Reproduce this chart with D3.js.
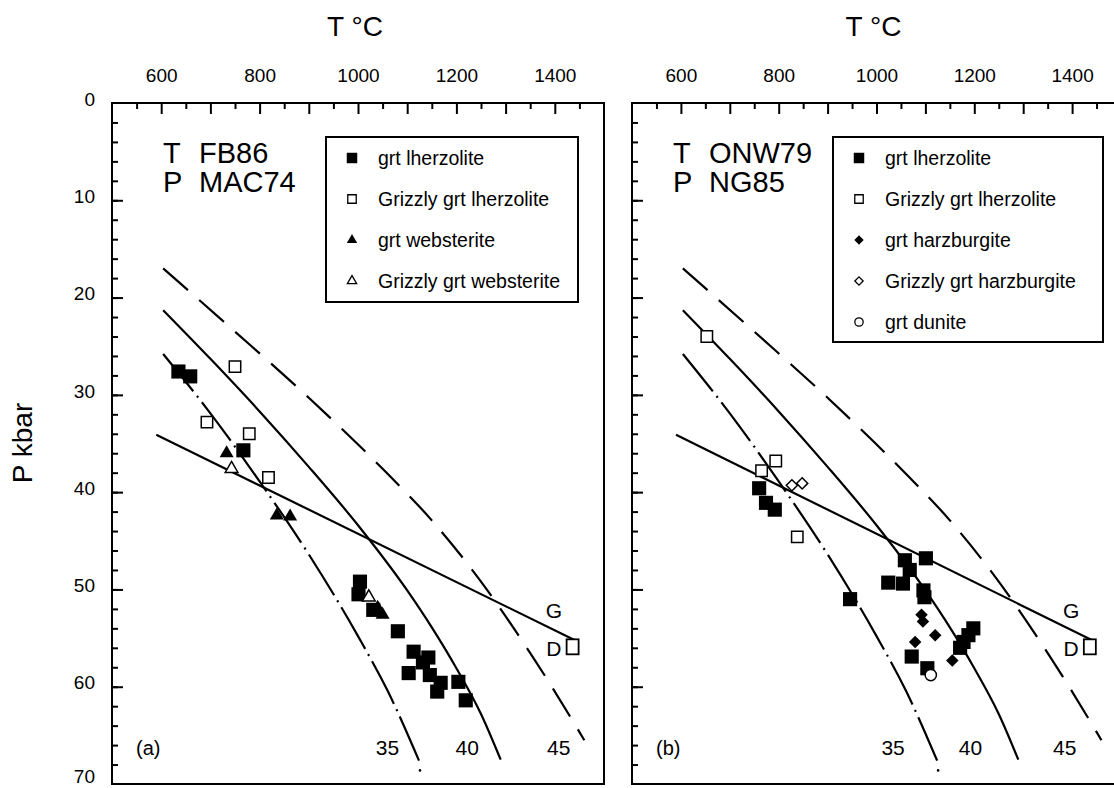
<!DOCTYPE html>
<html>
<head>
<meta charset="utf-8">
<script src="https://cdn.jsdelivr.net/npm/d3@7"></script>
<style>
  body { margin: 0; background: #fff; }
  svg { display: block; font-family: "Liberation Sans", Arial, Helvetica, sans-serif; }
</style>
</head>
<body>
<div id="chart"></div>
<script>
// Axis values
const tempTicks = [600, 800, 1000, 1200, 1400];
const pressTicks = [0, 10, 20, 30, 40, 50, 60, 70];

// Geotherms (T degC, P kbar), labels 35 / 40 / 45 mW/m2
const geo35 = [[604, 25.8], [700, 31.9], [800, 38.9], [900, 46.4], [1000, 54.8], [1060, 60.4], [1124, 67.6]];
const geo40 = [[604, 21.3], [700, 26.3], [800, 31.7], [900, 37.4], [1000, 43.4], [1100, 50.1], [1150, 53.9], [1200, 58.1], [1250, 62.8], [1290, 67.5]];
const geo45 = [[604, 17.0], [750, 23.5], [900, 30.3], [1050, 37.6], [1150, 42.9], [1250, 49.2], [1330, 55.0], [1400, 60.5], [1460, 65.5]];
// graphite-diamond boundary
const gdLine = [[590, 34.1], [1440, 55.2]];

// Panel (a) samples
const lherzA = [[635, 27.6], [659, 28.1], [767, 35.7], [1004, 49.2], [1001, 50.5], [1031, 52.1], [1081, 54.3],
  [1113, 56.4], [1132, 57.5], [1143, 57.0], [1103, 58.6], [1146, 58.8], [1168, 59.6], [1161, 60.5], [1204, 59.5], [1219, 61.4]];
const grizzlyLherzA = [[750, 27.1], [693, 32.8], [779, 34.0], [818, 38.5]];
const webA = [[733, 36.0], [835, 42.4], [862, 42.5], [1040, 51.9], [1050, 52.6]];
const grizzlyWebA = [[743, 37.6], [1022, 50.8]];

// Panel (b) samples
const lherzB = [[760, 39.6], [774, 41.1], [792, 41.8], [946, 51.0], [1058, 47.0], [1101, 46.8], [1068, 48.0], [1024, 49.3],
  [1054, 49.4], [1096, 50.1], [1098, 50.8], [1198, 54.0], [1188, 54.7], [1178, 55.4], [1171, 56.0], [1072, 56.9], [1104, 58.1]];
const grizzlyLherzB = [[653, 24.0], [765, 37.8], [794, 36.8], [838, 44.6]];
const harzB = [[1092, 52.6], [1095, 53.3], [1120, 54.7], [1079, 55.4], [1155, 57.3]];
const grizzlyHarzB = [[827, 39.3], [848, 39.1]];
const duniteB = [[1111, 58.8]];

const width = 1114, height = 788;
const plotTop = 103, plotBottom = 784;

const svg = d3.select("#chart").append("svg")
  .attr("width", width)
  .attr("height", height)
  .attr("viewBox", [0, 0, width, height]);

// marker styles
const kinds = {
  fsq:  { type: d3.symbolSquare, size: 200, fill: "#000", stroke: "none" },
  osq:  { type: d3.symbolSquare, size: 130, fill: "#fff", stroke: "#000" },
  ftri: { type: d3.symbolTriangle, size: 85, fill: "#000", stroke: "none" },
  otri: { type: d3.symbolTriangle, size: 70, fill: "#fff", stroke: "#000" },
  fdia: { type: d3.symbolDiamond2, size: 100, fill: "#000", stroke: "none" },
  odia: { type: d3.symbolDiamond2, size: 80, fill: "#fff", stroke: "#000" },
  ocir: { type: d3.symbolCircle, size: 100, fill: "#fff", stroke: "#000" }
};

function drawPanel(p) {
  const x = d3.scaleLinear().domain([500, 1500]).range([p.left, p.right]);
  const y = d3.scaleLinear().domain([0, 70]).range([plotTop, plotBottom]);
  const g = svg.append("g");

  // axis title on top
  g.append("text")
    .attr("x", (p.left + p.right) / 2 - 3)
    .attr("y", 36)
    .attr("text-anchor", "middle")
    .attr("font-size", 28)
    .text("T \u00b0C");

  // top ticks, pointing inward
  const ax = (vals, size) => d3.axisTop(x).tickValues(vals).tickSize(-size).tickFormat("");
  g.append("g").attr("transform", `translate(0,${plotTop})`).call(ax(d3.range(550, 1500, 100), 6));
  g.append("g").attr("transform", `translate(0,${plotTop})`).call(ax(d3.range(600, 1500, 100), 11));
  g.append("g").attr("transform", `translate(0,${plotTop})`)
    .call(d3.axisTop(x).tickValues(tempTicks).tickFormat(d3.format("d")).tickSize(0).tickPadding(21))
    .call(s => s.selectAll("text").attr("font-size", 19));

  // left ticks, pointing inward
  const ay = (vals, size) => d3.axisLeft(y).tickValues(vals).tickSize(-size).tickFormat("");
  g.append("g").attr("transform", `translate(${p.left},0)`).call(ay(d3.range(2, 70, 2), 6));
  g.append("g").attr("transform", `translate(${p.left},0)`).call(ay(pressTicks.slice(1, -1), 11));
  if (p.yLabels) {
    g.append("g").attr("transform", `translate(${p.left},0)`)
      .call(d3.axisLeft(y).tickValues(pressTicks).tickSize(0).tickPadding(17))
      .call(s => s.selectAll("text").attr("font-size", 19)
        .attr("dy", d => d === 70 ? "-0.08em" : "0.12em"));
  }
  g.selectAll(".domain").remove();
  g.selectAll(".tick line").attr("stroke", "#000").attr("stroke-width", 2);
  g.selectAll(".tick text").attr("fill", "#000");
  g.selectAll("g").attr("font-family", null);

  // frame
  g.append("rect")
    .attr("x", p.left).attr("y", plotTop)
    .attr("width", p.right - p.left).attr("height", plotBottom - plotTop)
    .attr("fill", "none").attr("stroke", "#000").attr("stroke-width", 2);

  // geotherms and G-D line
  const line = d3.line().x(d => x(d[0])).y(d => y(d[1])).curve(d3.curveMonotoneX);
  const lines = [
    { d: geo35, dash: "48,6,2,6" },
    { d: geo40, dash: null },
    { d: geo45, dash: "33,15" },
    { d: gdLine, dash: null }
  ];
  g.selectAll("path.curve").data(lines).join("path")
    .attr("class", "curve")
    .attr("d", d => line(d.d))
    .attr("fill", "none")
    .attr("stroke", "#000")
    .attr("stroke-width", 2.2)
    .attr("stroke-dasharray", d => d.dash);
  g.append("circle").attr("cx", x(1126)).attr("cy", y(68.6)).attr("r", 1.3).attr("fill", "#000");

  // curve labels
  const labels = [
    { t: "35", T: p.t35, P: 67.0 }, { t: "40", T: p.t40, P: 67.0 }, { t: "45", T: p.t45, P: 67.0 },
    { t: "G", T: 1398, P: 52.9 }, { t: "D", T: 1398, P: 56.8 }
  ];
  g.selectAll("text.lab").data(labels).join("text")
    .attr("class", "lab")
    .attr("x", d => x(d.T)).attr("y", d => y(d.P))
    .attr("text-anchor", "middle")
    .attr("font-size", 21)
    .text(d => d.t);
  g.append("rect")
    .attr("x", x(1424)).attr("y", y(55.9) - 7.5)
    .attr("width", 12).attr("height", 15)
    .attr("fill", "#fff").attr("stroke", "#000").attr("stroke-width", 1.8);

  g.append("text").attr("x", p.left + 24).attr("y", y(67.0))
    .attr("font-size", 20).text(p.tag);

  // thermobarometer note
  p.note.forEach((r, i) => {
    g.append("text").attr("x", p.left + p.noteDx).attr("y", 163 + i * 29).attr("font-size", 29).text(r[0]);
    g.append("text").attr("x", p.left + p.noteDx + 36).attr("y", 163 + i * 29).attr("font-size", 29).text(r[1]);
  });

  // samples
  p.series.forEach(s => {
    const k = kinds[s.kind];
    g.append("g").selectAll("path").data(s.data).join("path")
      .attr("transform", d => `translate(${x(d[0])},${y(d[1])})`)
      .attr("d", d3.symbol(k.type, k.size))
      .attr("fill", k.fill)
      .attr("stroke", k.stroke)
      .attr("stroke-width", 1.5);
  });

  // legend
  const lg = g.append("g").attr("transform", `translate(${p.legend.x},${p.legend.y})`);
  lg.append("rect")
    .attr("width", p.legend.w).attr("height", p.legend.h)
    .attr("fill", "#fff").attr("stroke", "#000").attr("stroke-width", 2);
  p.series.forEach((s, i) => {
    const k = kinds[s.kind];
    const row = lg.append("g").attr("transform", `translate(0,${21 + i * 41})`);
    row.append("path")
      .attr("transform", "translate(26,0)")
      .attr("d", d3.symbol(k.type, k.size * 0.55))
      .attr("fill", k.fill).attr("stroke", k.stroke).attr("stroke-width", 1.3);
    row.append("text").attr("x", 52).attr("y", 7).attr("font-size", 19.5).text(s.name);
  });
}

// shared y title
svg.append("text")
  .attr("transform", "translate(32,443) rotate(-90)")
  .attr("text-anchor", "middle")
  .attr("font-size", 28)
  .text("P kbar");

drawPanel({
  left: 112, right: 604, yLabels: true, tag: "(a)", noteDx: 51, t35: 1060, t40: 1222, t45: 1408,
  note: [["T", "FB86"], ["P", "MAC74"]],
  legend: { x: 326, y: 137, w: 252, h: 165 },
  series: [
    { name: "grt lherzolite", kind: "fsq", data: lherzA },
    { name: "Grizzly grt lherzolite", kind: "osq", data: grizzlyLherzA },
    { name: "grt websterite", kind: "ftri", data: webA },
    { name: "Grizzly grt websterite", kind: "otri", data: grizzlyWebA }
  ]
});

drawPanel({
  left: 632, right: 1121, yLabels: false, tag: "(b)", noteDx: 41, t35: 1034, t40: 1192, t45: 1385,
  note: [["T", "ONW79"], ["P", "NG85"]],
  legend: { x: 833, y: 137, w: 270, h: 205 },
  series: [
    { name: "grt lherzolite", kind: "fsq", data: lherzB },
    { name: "Grizzly grt lherzolite", kind: "osq", data: grizzlyLherzB },
    { name: "grt harzburgite", kind: "fdia", data: harzB },
    { name: "Grizzly grt harzburgite", kind: "odia", data: grizzlyHarzB },
    { name: "grt dunite", kind: "ocir", data: duniteB }
  ]
});
</script>
</body>
</html>
